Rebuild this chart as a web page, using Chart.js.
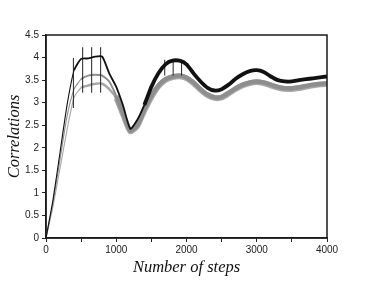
<!DOCTYPE html>
<html><head><meta charset="utf-8">
<script src="https://cdn.jsdelivr.net/npm/chart.js@4/dist/chart.umd.min.js"></script>
<style>html,body{margin:0;padding:0;background:#fff}#wrap{width:374px;height:282px}</style>
</head><body><div id="wrap"><canvas id="c" width="374" height="282"></canvas></div>
<script>
const steps = [0,100,200,300,400,500,600,700,800,900,1000,1100,1200,1300,1400,1500,1600,1700,1800,1900,2000,2100,2200,2300,2400,2500,2600,2700,2800,2900,3000,3100,3200,3300,3400,3500,3600,3700,3800,3900,4000];
const blackSeries = [0,0.85,1.9,2.95,3.72,3.97,3.98,4.02,4.02,3.65,3.35,2.92,2.42,2.62,2.95,3.35,3.65,3.85,3.93,3.93,3.85,3.65,3.47,3.33,3.27,3.3,3.4,3.53,3.63,3.7,3.72,3.68,3.58,3.5,3.47,3.47,3.5,3.52,3.54,3.56,3.58];
const graySeries = [0,0.78,1.75,2.7,3.3,3.52,3.6,3.62,3.6,3.47,3.15,2.75,2.38,2.5,2.85,3.15,3.38,3.52,3.58,3.6,3.56,3.45,3.3,3.18,3.12,3.13,3.22,3.32,3.4,3.45,3.47,3.45,3.4,3.35,3.32,3.32,3.34,3.37,3.4,3.42,3.43];
const lightSeries = [0,0.7,1.55,2.4,3.12,3.33,3.38,3.42,3.42,3.3,3.1,2.72,2.36,2.48,2.82,3.12,3.36,3.5,3.56,3.58,3.54,3.43,3.28,3.16,3.1,3.11,3.2,3.3,3.38,3.43,3.45,3.43,3.38,3.33,3.3,3.3,3.32,3.35,3.38,3.4,3.41];
const spikeSteps = [390,522,650,778,1690,1810,1930];
const spikeLow = [2.88,3.22,3.22,3.22,3.6,3.6,3.6];
const spikeHigh = [3.99,4.23,4.23,4.23,3.95,3.95,3.95];
const xTicks = [0,1000,2000,3000,4000];
const yTicks = [0,0.5,1,1.5,2,2.5,3,3.5,4,4.5];

function pts(arr){return steps.map((s,i)=>({x:s,y:arr[i]}));}
const spikePts = [];
spikeSteps.forEach((s,i)=>{spikePts.push({x:s,y:spikeLow[i]},{x:s,y:spikeHigh[i]},{x:s,y:null});});

function widthBy(ranges){
  return ctx => { const x = ctx.p0.parsed.x; for (const r of ranges){ if (x < r[0]) return r[1]; } return ranges[ranges.length-1][1]; };
}

const framePlugin = {id:'frame', afterDatasetsDraw(chart){
  const a = chart.chartArea, c = chart.ctx;
  c.save(); c.strokeStyle='#1a1a1a'; c.lineWidth=1.5;
  c.strokeRect(a.left, a.top, a.right-a.left, a.bottom-a.top); c.restore();
}};

new Chart(document.getElementById('c'), {
  type:'line',
  data:{datasets:[
    {data:pts(blackSeries), borderColor:'#111', borderWidth:1.2, pointRadius:0, tension:0.2, order:0,
      segment:{borderWidth: widthBy([[400,1.1],[1400,1.8],[99999,3.8]])}},
    {data:spikePts, borderColor:'#222', borderWidth:1, pointRadius:0, spanGaps:false, order:0},
    {data:pts(graySeries), borderColor:'#8e8e8e', borderWidth:1.2, pointRadius:0, tension:0.2, order:1,
      segment:{borderWidth: widthBy([[500,1.1],[1000,2],[99999,4.5]])}},
    {data:pts(lightSeries), borderColor:'#a8a8a8', borderWidth:1.2, pointRadius:0, tension:0.2, order:2,
      segment:{borderWidth: widthBy([[500,1.1],[1000,2.5],[99999,5.5]])}}
  ]},
  options:{
    responsive:false, animation:false, events:[],
    layout:{padding:{left:0,right:47,top:35,bottom:0}},
    plugins:{legend:{display:false}, tooltip:{enabled:false}},
    scales:{
      x:{type:'linear', min:0, max:4000,
        afterFit(s){s.height=44;},
        afterBuildTicks(s){s.ticks = [0,500,1000,1500,2000,2500,3000,3500,4000].map(v=>({value:v}));},
        ticks:{autoSkip:false, maxRotation:0, color:'#222', font:{family:'Liberation Sans, Arial', size:10}, padding:2,
          callback:v=> xTicks.includes(v) ? String(v) : ''},
        grid:{drawOnChartArea:false, tickLength:4, tickColor:'#222'},
        border:{color:'#1a1a1a', width:1.5},
        title:{display:true, text:'Number of steps', color:'#111', font:{family:'Liberation Serif', style:'italic', size:16.5}, padding:{top:0,bottom:4}}
      },
      y:{min:0, max:4.5,
        afterFit(s){s.width=46;},
        afterBuildTicks(s){s.ticks = yTicks.map(v=>({value:v}));},
        ticks:{color:'#222', font:{family:'Liberation Sans, Arial', size:10}, padding:3, callback:v=>String(v)},
        grid:{drawOnChartArea:false, tickLength:4, tickColor:'#222'},
        border:{color:'#1a1a1a', width:1.5},
        title:{display:true, text:'Correlations', color:'#111', font:{family:'Liberation Serif', style:'italic', size:16.5}, padding:{top:5,bottom:0}}
      }
    }
  },
  plugins:[framePlugin]
});
</script></body></html>
